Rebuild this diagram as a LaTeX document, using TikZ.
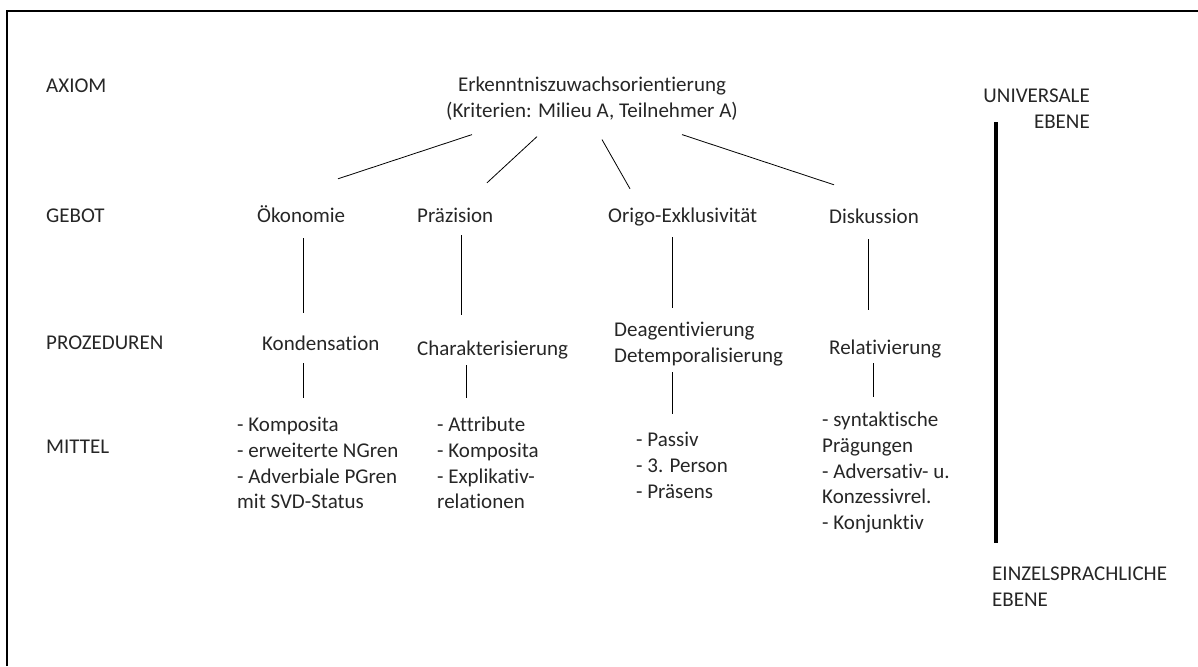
\documentclass[tikz,border=0pt]{standalone}
\usepackage{fontspec}
\setmainfont{Carlito}[Ligatures={NoCommon}]

\begin{document}
\begin{tikzpicture}[x=1pt,y=-1pt,
    lbl/.style={font=\fontsize{21}{25.7}\selectfont, inner sep=0pt, text=black!85},
    lvl/.style={lbl, anchor=west},
    item/.style={lbl, text height=15pt, text depth=5pt, anchor=base west},
    lst/.style={lbl, align=left, anchor=north west},
    link/.style={line width=0.8pt}]
    \useasboundingbox (0,0) rectangle (1198,666);

    % Frame (only top and left edges visible)
    \draw[line width=1.6pt] (7,666) -- (7,11) -- (1198,11);

    % Level labels
    \node[lvl] (axiom)  at (46,86)  {AXIOM};
    \node[lvl] (gebot)  at (46,216) {GEBOT};
    \node[lvl] (proz)   at (46,343) {PROZEDUREN};
    \node[lvl] (mittel) at (46,447) {MITTEL};

    % Axiom
    \node[lbl, align=center, anchor=north] (erk) at (592,77)
        {Erkenntniszuwachsorientierung\\(Kriterien: Milieu A, Teilnehmer A)};

    % Gebote
    \node[item] (oek)   at (257,222) {Ökonomie};
    \node[item] (praez) at (417,222) {Präzision};
    \node[item] (origo) at (608,222) {Origo-Exklusivität};
    \node[item] (disk)  at (829,223) {Diskussion};

    % Prozeduren
    \node[item] (kond) at (262,350) {Kondensation};
    \node[item] (char) at (417,355) {Charakterisierung};
    \node[lst]  (deag) at (614,322) {Deagentivierung\\Detemporalisierung};
    \node[item] (rel)  at (829,354) {Relativierung};

    % Mittel
    \node[lst] (oekm)   at (237,417) {- Komposita\\- erweiterte NGren\\- Adverbiale PGren\\mit SVD-Status};
    \node[lst] (praezm) at (437,417) {- Attribute\\- Komposita\\- Explikativ-\\relationen};
    \node[lst] (origom) at (636,432) {- Passiv\\- 3. Person\\- Präsens};
    \node[lst] (diskm)  at (822,412) {- syntaktische\\Prägungen\\- Adversativ- u.\\Konzessivrel.\\- Konjunktiv};

    % Axiom -> Gebote
    \draw[link] ([shift={(-120,14)}]erk.south) -- ([shift={(81,-28)}]oek.north west);
    \draw[link] ([shift={(-55,16)}]erk.south)  -- ([shift={(70,-24)}]praez.north west);
    \draw[link] ([shift={(10,19)}]erk.south)   -- ([shift={(22,-18)}]origo.north west);
    \draw[link] ([shift={(90,14)}]erk.south)   -- ([shift={(5,-23)}]disk.north west);

    % Gebote -> Prozeduren
    \draw[link] ([shift={(46,11)}]oek.south west)   -- ([shift={(41,-22)}]kond.north west);
    \draw[link] ([shift={(44,8)}]praez.south west)  -- ([shift={(44,-25)}]char.north west);
    \draw[link] ([shift={(64,10)}]origo.south west) -- ([shift={(58,-14)}]deag.north west);
    \draw[link] ([shift={(39,11)}]disk.south west)  -- ([shift={(39,-29)}]rel.north west);

    % Prozeduren -> Mittel
    \draw[link] ([shift={(41,8)}]kond.south west) -- ([shift={(66,-19)}]oekm.north west);
    \draw[link] ([shift={(49,5)}]char.south west) -- ([shift={(29,-19)}]praezm.north west);
    \draw[link] ([shift={(58,6)}]deag.south west) -- ([shift={(36,-18)}]origom.north west);
    \draw[link] ([shift={(44,4)}]rel.south west)  -- ([shift={(51,-15)}]diskm.north west);

    % Ebenen
    \node[lbl, align=right, anchor=north east] (univ) at (1090,89) {UNIVERSALE\\EBENE};
    \node[lst] (einzel) at (992,567) {EINZELSPRACHLICHE\\EBENE};
    \coordinate (bartop) at (996,122);
    \coordinate (barbot) at (996,543);
    \draw[line width=4pt] (bartop) -- (barbot);
\end{tikzpicture}
\end{document}
